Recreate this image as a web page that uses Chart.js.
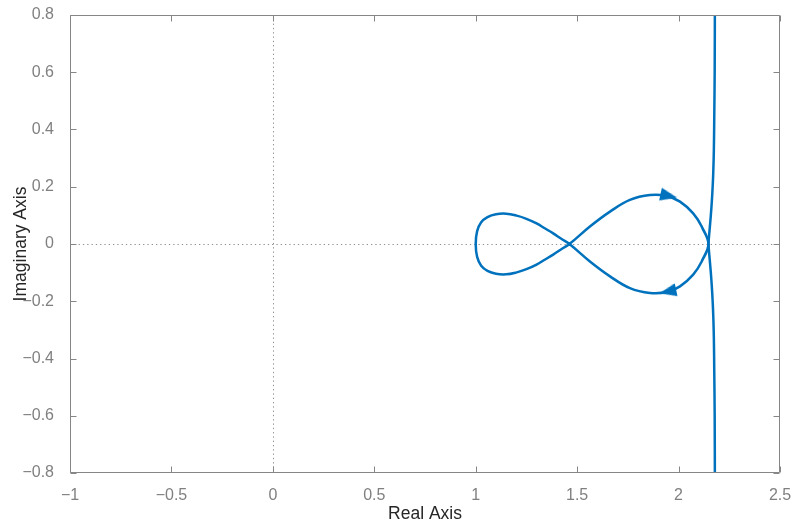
<!DOCTYPE html>
<html><head><meta charset="utf-8">
<script src="https://cdn.jsdelivr.net/npm/chart.js@4/dist/chart.umd.min.js"></script>
<style>html,body{margin:0;padding:0;background:#fff}#wrap{width:795px;height:525px}</style>
</head><body><div id="wrap"><canvas id="c" width="795" height="525"></canvas></div>
<script>
// Tick values and labels
const xTicks = [-1, -0.5, 0, 0.5, 1, 1.5, 2, 2.5];
const xTickLabels = ['\u22121', '\u22120.5', '0', '0.5', '1', '1.5', '2', '2.5'];
const yTicks = [-0.8, -0.6, -0.4, -0.2, 0, 0.2, 0.4, 0.6, 0.8];
const yTickLabels = ['\u22120.8', '\u22120.6', '\u22120.4', '\u22120.2', '0', '0.2', '0.4', '0.6', '0.8'];

// Nearly vertical branch (top to bottom)
const vertReal = [2.179, 2.178, 2.176, 2.174, 2.171, 2.168, 2.164, 2.159, 2.153, 2.148, 2.153, 2.159, 2.164, 2.168, 2.171, 2.174, 2.176, 2.178, 2.179];
const vertImag = [0.85, 0.6, 0.45, 0.33, 0.25, 0.2, 0.15, 0.1, 0.05, 0, -0.05, -0.1, -0.15, -0.2, -0.25, -0.33, -0.45, -0.6, -0.85];

// Figure-eight loop
const loopReal = [2.114, 2.147, 2.114, 2.072, 2.007, 1.941, 1.859, 1.760, 1.662, 1.563, 1.462, 1.420, 1.382, 1.340, 1.300, 1.250, 1.202, 1.150, 1.100, 1.058, 1.027, 1.007, 1.000, 1.007, 1.027, 1.058, 1.100, 1.150, 1.202, 1.250, 1.300, 1.340, 1.382, 1.420, 1.462, 1.563, 1.662, 1.760, 1.859, 1.941, 2.007, 2.072, 2.114, 2.147, 2.114];
const loopImag = [0.061, 0, -0.061, -0.107, -0.148, -0.168, -0.171, -0.154, -0.113, -0.061, 0, 0.019, 0.037, 0.055, 0.072, 0.088, 0.099, 0.106, 0.104, 0.094, 0.076, 0.045, 0, -0.045, -0.076, -0.094, -0.104, -0.106, -0.099, -0.088, -0.072, -0.055, -0.037, -0.019, 0, 0.061, 0.113, 0.154, 0.171, 0.168, 0.148, 0.107, 0.061, 0, -0.061];

// Direction arrows
const arrowReal = [1.952, 1.947];
const arrowImag = [0.168, -0.166];
const arrowDir = [102, 258];

const blue = '#0072BD';
const toPts = (xs, ys) => xs.map((x, i) => ({x: x, y: ys[i]}));

// arrowhead glyph used as point style
const head = document.createElement('canvas');
head.width = 14; head.height = 17;
(function () {
  const g = head.getContext('2d');
  g.fillStyle = blue;
  g.beginPath();
  g.moveTo(7, 0); g.lineTo(13.5, 17); g.lineTo(0.5, 17); g.closePath();
  g.fill();
})();

const frame = {
  id: 'frame',
  beforeDatasetsDraw(chart) {
    const {ctx, chartArea: a, scales: {x, y}} = chart;
    ctx.save();
    ctx.strokeStyle = '#8f8f8f';
    ctx.lineWidth = 1;
    ctx.setLineDash([1.3, 3]);
    const x0 = Math.round(x.getPixelForValue(0)) + 0.5;
    const y0 = Math.round(y.getPixelForValue(0)) + 0.5;
    ctx.beginPath();
    ctx.moveTo(x0, a.top); ctx.lineTo(x0, a.bottom);
    ctx.moveTo(a.left, y0); ctx.lineTo(a.right, y0);
    ctx.stroke();
    ctx.restore();
  },
  afterDatasetsDraw(chart) {
    const {ctx, chartArea: a, scales: {x, y}} = chart;
    const L = Math.round(a.left) + 0.5, R = Math.round(a.right) - 0.5;
    const T = Math.round(a.top) + 0.5, B = Math.round(a.bottom) - 0.5;
    ctx.save();
    ctx.strokeStyle = '#868686';
    ctx.lineWidth = 1;
    ctx.beginPath();
    ctx.rect(L, T, R - L, B - T);
    const tl = 6;
    xTicks.forEach(v => {
      const px = Math.round(x.getPixelForValue(v)) + 0.5;
      ctx.moveTo(px, B); ctx.lineTo(px, B - tl);
      ctx.moveTo(px, T); ctx.lineTo(px, T + tl);
    });
    yTicks.forEach(v => {
      const py = Math.round(y.getPixelForValue(v)) + 0.5;
      ctx.moveTo(L, py); ctx.lineTo(L + tl, py);
      ctx.moveTo(R, py); ctx.lineTo(R - tl, py);
    });
    ctx.stroke();
    ctx.restore();
  }
};

const tickFont = {family: '"Liberation Sans", Arial, Helvetica, sans-serif', size: 16};
const titleFont = {family: '"Liberation Sans", Arial, Helvetica, sans-serif', size: 17.5};

new Chart(document.getElementById('c'), {
  type: 'scatter',
  data: {
    datasets: [
      {data: toPts(vertReal, vertImag), showLine: true, borderColor: blue, borderWidth: 2.5, pointRadius: 0, tension: 0.4, fill: false},
      {data: toPts(loopReal, loopImag), showLine: true, borderColor: blue, borderWidth: 2.5, pointRadius: 0, tension: 0.4, fill: false},
      {data: toPts(arrowReal, arrowImag), showLine: false, pointStyle: head, rotation: arrowDir, pointRadius: 8, backgroundColor: blue, borderColor: blue, borderWidth: 0}
    ]
  },
  options: {
    responsive: false,
    animation: false,
    events: [],
    layout: {padding: {left: 0, top: 15, right: 15, bottom: 0}},
    plugins: {legend: {display: false}, tooltip: {enabled: false}},
    scales: {
      x: {
        type: 'linear', min: -1, max: 2.5,
        afterBuildTicks: s => { s.ticks = xTicks.map(v => ({value: v})); },
        afterFit: s => { s.height = 52; s.paddingLeft = 0; s.paddingRight = 0; s.paddingTop = 0; s.paddingBottom = 0; },
        grid: {display: false}, border: {display: false},
        ticks: {autoSkip: false, maxRotation: 0, padding: 5, color: '#808080', font: tickFont,
          callback: v => xTickLabels[xTicks.indexOf(v)]},
        title: {display: true, text: 'Real Axis', color: '#262626', font: titleFont, padding: {top: 0, bottom: 0}}
      },
      y: {
        type: 'linear', min: -0.8, max: 0.8,
        afterBuildTicks: s => { s.ticks = yTicks.map(v => ({value: v})); },
        afterFit: s => { s.width = 70; s.paddingLeft = 0; s.paddingRight = 0; s.paddingTop = 0; s.paddingBottom = 0; },
        grid: {display: false}, border: {display: false},
        ticks: {autoSkip: false, padding: 8, color: '#808080', font: tickFont,
          callback: v => yTickLabels[yTicks.indexOf(v)]},
        title: {display: true, text: 'Imaginary Axis', color: '#262626', font: titleFont, padding: {top: 11, bottom: 0}}
      }
    }
  },
  plugins: [frame]
});
</script>
</body></html>
